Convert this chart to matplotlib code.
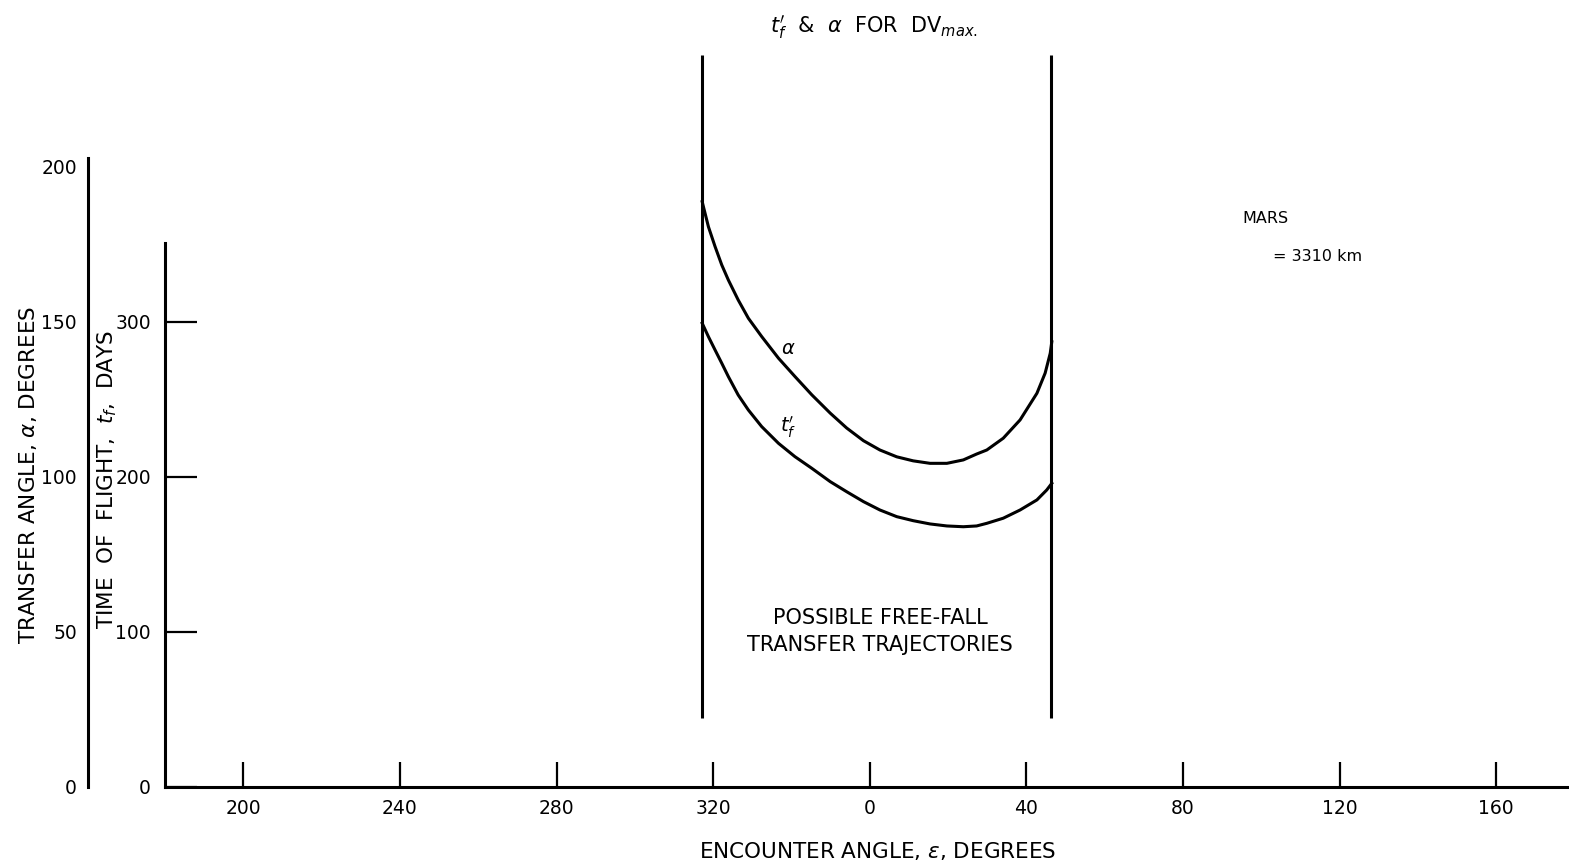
import numpy as np
import matplotlib
matplotlib.use("Agg")
import matplotlib.pyplot as plt

# encounter angle (deg, wraps through 0) and transfer angle for DV_max
alpha_enc = [317.2, 318.8, 320.5, 322.2, 323.9, 326.4, 329.0, 332.4, 336.7,
             340.9, 345.2, 349.9, 354.1, 358.4, 2.6, 6.9, 11.1, 15.4, 19.7,
             23.9, 27.3, 29.9, 34.1, 38.4, 42.7, 44.8, 46.1, 46.5]
alpha_deg = [188.8, 180.7, 174.3, 168.4, 163.5, 157.1, 151.2, 145.3, 138.3,
             132.4, 126.5, 120.6, 115.8, 111.7, 108.7, 106.5, 105.2, 104.4,
             104.4, 105.5, 107.4, 108.7, 112.5, 118.4, 127.0, 133.5, 139.9,
             143.6]

# encounter angle and time of flight for DV_max
tf_enc = [317.2, 318.8, 320.5, 322.2, 323.9, 326.4, 329.0, 332.4, 336.7,
          340.9, 345.2, 349.9, 354.1, 358.4, 2.6, 6.9, 11.1, 15.4, 19.7,
          23.9, 27.3, 29.9, 34.1, 38.4, 42.7, 45.2, 46.5]
tf_days = [299.2, 290.5, 281.9, 273.4, 264.7, 252.9, 243.2, 232.5, 221.7,
           213.1, 205.6, 197.0, 190.5, 184.1, 178.7, 174.4, 171.8, 169.7,
           168.4, 167.9, 168.4, 170.1, 173.4, 178.7, 185.2, 191.6, 195.9]

# limits of the free-fall region
region_limits = [317.2, 46.4]

x_ticks = [200, 240, 280, 320, 360, 400, 440, 480, 520]
x_ticklabels = ['200', '240', '280', '320', '0', '40', '80', '120', '160']
tf_ticks = [0, 100, 200, 300]
alpha_ticks = [0, 50, 100, 150, 200]


def unwrap(deg):
    # angles past 0 are carried on past 360 so the axis runs continuously
    deg = np.asarray(deg, dtype=float)
    return np.where(deg < 180, deg + 360, deg)


plt.rcParams['font.family'] = ['DejaVu Sans']

fig = plt.figure(figsize=(15.69, 8.67), dpi=100, facecolor='w')
ax = fig.add_axes([165 / 1569, 80 / 867, 1404 / 1569, 787 / 867])
ax.set_xlim(180, 538.6)
ax.set_ylim(0, 507.7)

lw = 2.2
# alpha is drawn on the days scale (1 deg = 2 days)
ax.plot(unwrap(alpha_enc), np.asarray(alpha_deg) * 2, color='k', lw=lw,
        solid_joinstyle='round')
ax.plot(unwrap(tf_enc), tf_days, color='k', lw=lw, solid_joinstyle='round')
for lim in unwrap(region_limits):
    ax.vlines(lim, 44.5, 472, color='k', lw=lw)

# axes frame
for side in ('top', 'right'):
    ax.spines[side].set_visible(False)
ax.spines['left'].set_linewidth(2.2)
ax.spines['bottom'].set_linewidth(2.2)
ax.spines['left'].set_bounds(0, 351)

ax.set_xticks(x_ticks)
ax.set_xticklabels(x_ticklabels)
ax.tick_params(axis='x', direction='in', length=18, width=1.6, pad=9,
               labelsize=13.5)
ax.set_yticks(tf_ticks)
ax.tick_params(axis='y', direction='in', length=23, width=1.6, pad=10,
               labelsize=13.5)

# transfer angle scale, twice the days scale
sec = ax.secondary_yaxis(-0.0548, functions=(lambda t: t / 2, lambda a: a * 2))
sec.set_yticks(alpha_ticks)
sec.tick_params(axis='y', length=0, pad=8, labelsize=13.5)
sec.spines['left'].set_linewidth(2.2)
sec.spines['left'].set_bounds(0, 203)

ax.set_ylabel(r"TIME  OF  FLIGHT,  $t_f$,  DAYS", fontsize=15.5)
ax.yaxis.set_label_coords(-0.0328, 0.391)
sec.set_ylabel(r"TRANSFER ANGLE, $\alpha$, DEGREES", fontsize=15.5)
sec.yaxis.set_label_coords(-0.0897, 0.396, transform=ax.transAxes)
ax.set_xlabel(r"ENCOUNTER ANGLE, $\varepsilon$, DEGREES", fontsize=15.5)
ax.xaxis.set_label_coords((878 - 165) / 1404, -0.0673)

# annotations
ax.text(361, 490, r"$t_f'$  &  $\alpha$  FOR  DV$_{max.}$", fontsize=15,
        ha='center', va='center')
ax.text(337.3, 283, r"$\alpha$", fontsize=14, ha='left', va='center')
ax.text(337.0, 232, r"$t_f'$", fontsize=14, ha='left', va='center')
ax.text(362.6, 100.5, "POSSIBLE FREE-FALL\nTRANSFER TRAJECTORIES", fontsize=15,
        ha='center', va='center', linespacing=1.45)
ax.text(455.1, 367, "MARS", fontsize=11.5, ha='left', va='center')
ax.text(463.0, 342, "= 3310 km", fontsize=11.5, ha='left', va='center')

fig.savefig("out.png", dpi=100, facecolor='w')
